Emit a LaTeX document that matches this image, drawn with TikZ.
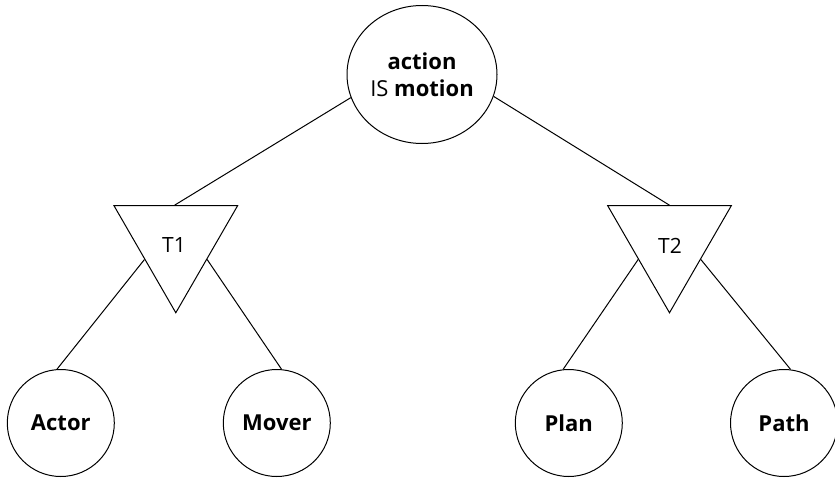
\documentclass[tikz,border=0pt]{standalone}
\usepackage{fontspec}
\setmainfont{Open Sans}
\usetikzlibrary{shapes.geometric}
\begin{document}
\begin{tikzpicture}[x=1pt,y=-1pt,
  edge/.style={line width=1pt},
  concept/.style={draw, line width=1pt, circle, inner sep=0pt, minimum size=107pt,
    font=\fontsize{22}{26}\selectfont\bfseries},
  rootnode/.style={draw, line width=1pt, ellipse, inner sep=0pt,
    minimum width=150pt, minimum height=138pt, align=center,
    font=\fontsize{22}{27}\selectfont},
  tri/.style={draw, line width=1pt, regular polygon, regular polygon sides=3,
    shape border rotate=180, inner sep=0pt, minimum size=142.7pt},
  trilabel/.style={font=\fontsize{21}{24}\selectfont}]
\useasboundingbox (0,0) rectangle (835,479);

% root and the two triangles
\node[rootnode] (root) at (422,74.5) {\textbf{action}\\IS \textbf{motion}};
\node[tri] (t1) at (175.8,241.4) {};
\node[tri] (t2) at (669.5,241.4) {};
\node[trilabel] (t1label) at (174,245) {T1};
\node[trilabel] (t2label) at (670,246) {T2};

% leaves
\node[concept] (actor) at (60.8,423) {Actor};
\node[concept] (mover) at (276.8,423) {Mover};
\node[concept] (plan)  at (568.8,423) {Plan};
\node[concept] (path)  at (784,423) {Path};

% connectors
\draw[edge] (root.198) -- (t1.92);
\draw[edge] (root.343) -- (t2.90);
\draw[edge] (t1.210) -- (actor.94);
\draw[edge] (t1.330) -- (mover.85);
\draw[edge] (t2.210) -- (plan.96);
\draw[edge] (t2.330) -- (path.83);
\end{tikzpicture}
\end{document}
